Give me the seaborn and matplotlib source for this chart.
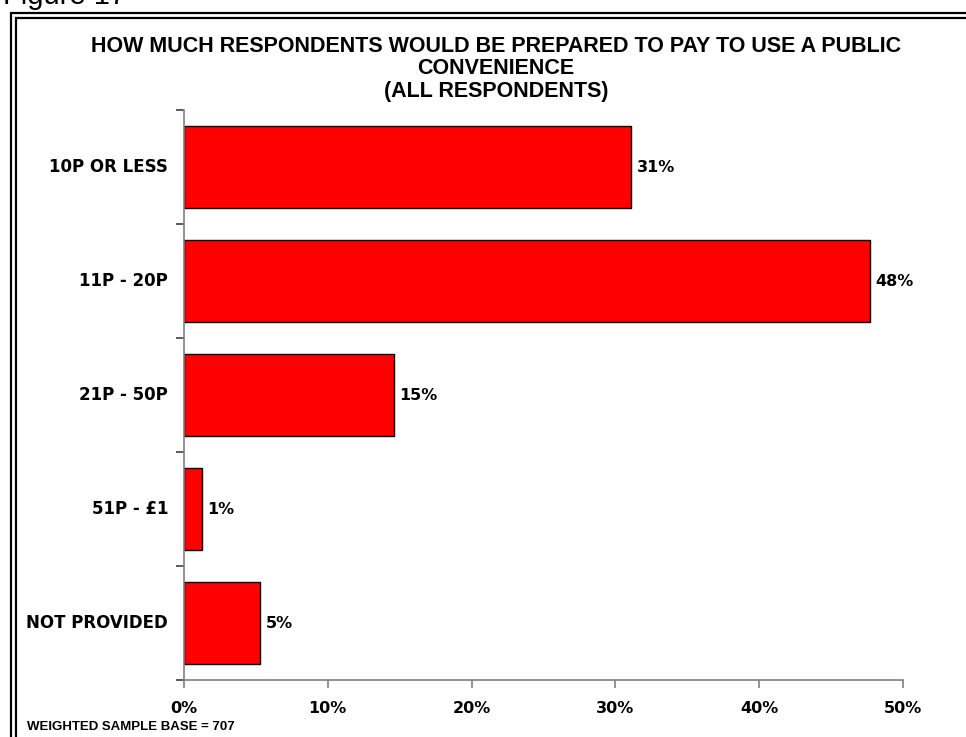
import matplotlib
matplotlib.use("Agg")
import matplotlib.pyplot as plt
import matplotlib.patches as mpatches
from matplotlib.transforms import offset_copy
import seaborn as sns
import pandas as pd

categories = ["10P OR LESS", "11P - 20P", "21P - 50P", "51P - \u00a31", "NOT PROVIDED"]
values = [31.1, 47.7, 14.6, 1.25, 5.3]
value_labels = ["31%", "48%", "15%", "1%", "5%"]
xticks = [0, 10, 20, 30, 40, 50]
xtick_labels = ["0%", "10%", "20%", "30%", "40%", "50%"]
title_lines = ["HOW MUCH RESPONDENTS WOULD BE PREPARED TO PAY TO USE A PUBLIC",
               "CONVENIENCE", "(ALL RESPONDENTS)"]

sns.set_style("white")
plt.rcParams["font.family"] = ["Liberation Sans", "DejaVu Sans"]
plt.rcParams["text.color"] = "black"
plt.rcParams["xtick.labelcolor"] = "black"
plt.rcParams["ytick.labelcolor"] = "black"
BOLD = ["DejaVu Sans"]

W, H = 966, 737
fig = plt.figure(figsize=(W / 100, H / 100), dpi=100)
ax = fig.add_axes([184 / W, 1 - 680 / H, (903 - 184) / W, (680 - 110) / H])

df = pd.DataFrame({"cat": categories, "val": values})
sns.barplot(data=df, x="val", y="cat", orient="h", color="#ff0000",
            saturation=1, edgecolor="black", linewidth=1.0, width=0.72, ax=ax)

ax.set_xlim(0, 50)
ax.set_ylim(4.5, -0.5)
ax.set_xticks(xticks)
ax.set_xticklabels(xtick_labels, fontsize=11.5, fontweight="bold", family=BOLD,
                   color="black")
ax.set_yticks([i - 0.5 for i in range(len(categories) + 1)])
ax.set_yticklabels([])
lab_tr = offset_copy(ax.get_yaxis_transform(), fig=fig, x=-16, y=0, units="dots")
for i, c in enumerate(categories):
    ax.text(0, i, c, transform=lab_tr, ha="right", va="center", color="black",
            fontsize=12, fontweight="bold", family=BOLD)
ax.set_xlabel("")
ax.set_ylabel("")
for s in ["top", "right"]:
    ax.spines[s].set_visible(False)
for s in ["left", "bottom"]:
    ax.spines[s].set_color("#808080")
    ax.spines[s].set_linewidth(1.2)
ax.tick_params(axis="x", bottom=True, direction="out", length=6, width=1.2,
               color="#808080", pad=9)
ax.tick_params(axis="y", left=True, direction="out", length=6, width=1.2,
               color="#404040")
ax.grid(False)

for i, (v, lab) in enumerate(zip(values, value_labels)):
    ax.annotate(lab, (v, i), xytext=(4, 0), textcoords="offset points", color="black",
                ha="left", va="center", fontsize=11.5, fontweight="bold", family=BOLD)

for k, (line, yy) in enumerate(zip(title_lines, [47, 69, 91])):
    fig.text(496 / W, 1 - yy / H, line, ha="center", va="center", color="black",
             fontsize=15.5, fontweight="bold")

fig.text(27 / W, 1 - 727 / H, "WEIGHTED SAMPLE BASE = 707", ha="left", va="center",
         fontsize=9.5, fontweight="bold", color="black")

fig.text(3 / W, 1 - 4 / H, "Figure 17", ha="left", va="baseline", fontsize=21,
         color="black")

for off in (11, 15.5):
    r = mpatches.Rectangle((off / W, -0.1), 1.2, 1 - (off + 2) / H + 0.1,
                           transform=fig.transFigure, fill=False, edgecolor="black",
                           linewidth=1.6)
    fig.patches.append(r)

fig.savefig("out.png", dpi=100)
